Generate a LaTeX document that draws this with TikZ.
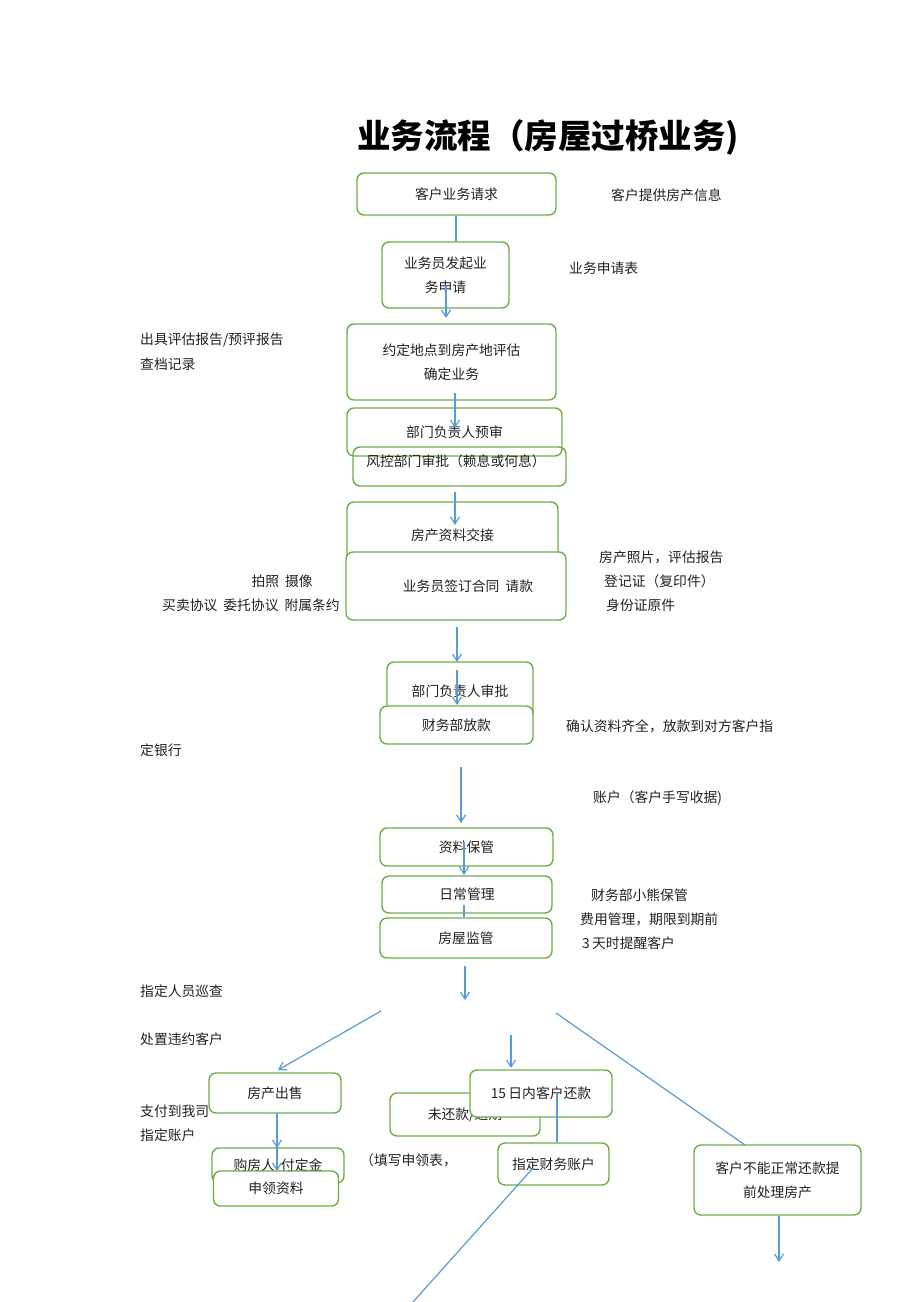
\documentclass[tikz,border=0pt]{standalone}
\usepackage{fontspec}
\setmainfont{Noto Sans CJK SC}
\usetikzlibrary{arrows.meta}
\definecolor{bgreen}{HTML}{70AD47}
\definecolor{ablue}{HTML}{5B9BD5}
\definecolor{tgray}{HTML}{222222}
\tikzset{
 box/.style={draw=bgreen, line width=1.4pt, rounded corners=7pt, fill=white, inner sep=0pt, align=center, text=tgray, font=\fontsize{13.8}{24}\selectfont},
 txt/.style={anchor=west, inner sep=0pt, text=tgray, font=\fontsize{13.8}{24}\selectfont},
 arr/.style={draw=ablue, line width=1.2pt, -{Straight Barb[length=7pt,width=9pt]}},
 ln/.style={draw=ablue, line width=1.2pt},
}
\newcommand{\gapsp}{\hspace{6pt}}
\begin{document}
\begin{tikzpicture}[x=1pt,y=-1pt]
\useasboundingbox (0,0) rectangle (920,1302);
\fill[white] (0,0) rectangle (920,1302);

% title
\node[anchor=west, inner sep=0pt, text=black, font=\fontsize{33.5}{36}\selectfont\bfseries] (title) at (357,137) {业务流程（房屋过桥业务)};

% line hidden under box 7
\coordinate (a5s) at (456,540);
\coordinate (a5e) at (456,565);
\draw[ln] (a5s) -- (a5e);

% boxes
\node[box, minimum width=199pt, minimum height=42pt] (b1) at (456.5,194) {客户业务请求};
\node[box, minimum width=127pt, minimum height=66pt] (b2) at (445.5,275) {业务员发起业\\务申请};
\node[box, minimum width=209pt, minimum height=76pt] (b3) at (451.5,362) {约定地点到房产地评估\\确定业务};
\node[box, minimum width=215pt, minimum height=48pt, fill=none] (b4) at (454.5,432) {部门负责人预审};
\node[box, minimum width=213pt, minimum height=39pt, fill=none] (b5) at (459.5,466.5) {};
\node[txt, anchor=center] (t5) at (456,461) {风控部门审批（赖息或何息）};
\node[box, minimum width=211pt, minimum height=66pt] (b6) at (452.5,535) {房产资料交接};
\node[box, minimum width=220pt, minimum height=68pt] (b7) at (456,586) {\hspace*{24pt}业务员签订合同\gapsp 请款};
\node[box, minimum width=146pt, minimum height=58pt] (b8) at (460,691) {部门负责人审批};
\node[box, minimum width=153pt, minimum height=38pt] (b9) at (456.5,725) {财务部放款};
\node[box, minimum width=173pt, minimum height=38pt] (b10) at (466.5,847) {资料保管};
\node[box, minimum width=170pt, minimum height=37pt] (b11) at (467,894.5) {日常管理};
\node[box, minimum width=172pt, minimum height=40pt] (b12) at (466,938) {房屋监管};
\node[box, minimum width=132pt, minimum height=40pt] (b13) at (275,1093) {房产出售};
\node[box, minimum width=132pt, minimum height=35pt] (b14) at (278,1165.5) {购房人\gapsp 付定金};
\node[box, minimum width=125pt, minimum height=35pt] (b15) at (276,1188.5) {申领资料};
\node[box, minimum width=150pt, minimum height=43pt] (b16) at (465,1114.5) {未还款/逾期};
\node[box, minimum width=142pt, minimum height=47pt] (b17) at (541,1093.5) {15\,日内客户还款};
\node[box, minimum width=111pt, minimum height=42pt] (b18) at (553.5,1164) {指定财务账户};
\node[box, minimum width=167pt, minimum height=70pt] (b19) at (777.5,1180) {客户不能正常还款提\\前处理房产};

% free texts
\node[txt] (n1) at (611,195) {客户提供房产信息};
\node[txt] (n2) at (569,268) {业务申请表};
\node[txt] (n3) at (140,340) {出具评估报告/预评报告};
\node[txt] (n4) at (140,364) {查档记录};
\node[txt] (n5) at (599,557) {房产照片，评估报告};
\node[txt] (n6) at (604,581) {登记证（复印件）};
\node[txt] (n7) at (606,605) {身份证原件};
\node[txt, anchor=east] (n8) at (313,581) {拍照\gapsp 摄像};
\node[txt, anchor=east] (n9) at (340,605) {买卖协议\gapsp 委托协议\gapsp 附属条约};
\node[txt] (n10) at (566,726) {确认资料齐全，放款到对方客户指};
\node[txt] (n11) at (140,750) {定银行};
\node[txt] (n12) at (593,798) {账户（客户手写收据)};
\node[txt] (n13) at (591,895) {财务部小熊保管};
\node[txt] (n14) at (580,919) {费用管理，期限到期前};
\node[txt] (n15) at (582,943) {3\,天时提醒客户};
\node[txt] (n16) at (140,991) {指定人员巡查};
\node[txt] (n17) at (140,1039) {处置违约客户};
\node[txt] (n18) at (140,1111) {支付到我司};
\node[txt] (n19) at (140,1135) {指定账户};
\node[txt] (n20) at (360,1160) {（填写申领表，};

% connector coordinates
\coordinate (a2s) at (446,285);
\coordinate (a2e) at (446,318);
\coordinate (a3s) at (455,393);
\coordinate (a3e) at (455,428);
\coordinate (a4s) at (455,492);
\coordinate (a4e) at (455,525);
\coordinate (a6s) at (457,627);
\coordinate (a6e) at (457,662);
\coordinate (a7s) at (457,670);
\coordinate (a7e) at (457,705);
\coordinate (a8s) at (461,767);
\coordinate (a8e) at (461,823);
\coordinate (a9s) at (464,842);
\coordinate (a9e) at (464,875);
\coordinate (a10s) at (464,905);
\coordinate (a11s) at (465,966);
\coordinate (a11e) at (465,1000);
\coordinate (a12s) at (381,1011);
\coordinate (a12e) at (278,1070);
\coordinate (a13s) at (511,1035);
\coordinate (a13e) at (511,1068);
\coordinate (a14s) at (556,1013);
\coordinate (a14e) at (745,1145);
\coordinate (a15s) at (557,1093);
\coordinate (a16s) at (277,1113);
\coordinate (a16e) at (277,1148);
\coordinate (a17s) at (277,1128);
\coordinate (a17e) at (277,1171);
\coordinate (a18s) at (533,1168);
\coordinate (a18e) at (413,1302);
\coordinate (a19e) at (779,1262);

% connectors
\draw[ln] (b1.south -| a2s) ++(10,0) coordinate (a1s) -- (a1s |- b2.north);
\draw[arr] (a2s) -- (a2e);
\draw[arr] (a3s) -- (a3e);
\draw[arr] (a4s) -- (a4e);
\draw[arr] (a6s) -- (a6e);
\draw[arr] (a7s) -- (a7e);
\draw[arr] (a8s) -- (a8e);
\draw[arr] (a9s) -- (a9e);
\draw[ln] (a10s) -- (a10s |- b12.north);
\draw[arr] (a11s) -- (a11e);
\draw[arr] (a12s) -- (a12e);
\draw[arr] (a13s) -- (a13e);
\draw[ln] (a14s) -- (a14e);
\draw[ln] (a15s) -- (a15s |- b18.north);
\draw[arr] (a16s) -- (a16e);
\draw[arr] (a17s) -- (a17e);
\draw[ln] (a18s) -- (a18e);
\draw[arr] (b19.south -| a19e) -- (a19e);
\end{tikzpicture}
\end{document}
